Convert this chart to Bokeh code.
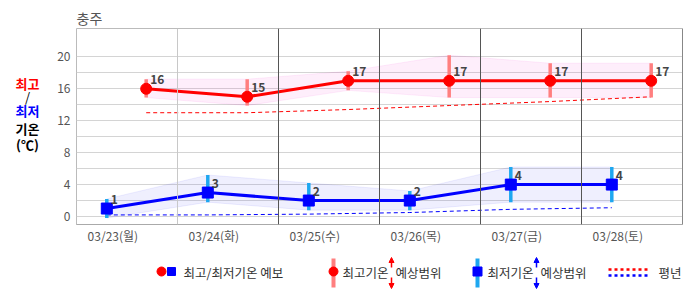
from bokeh.plotting import figure
from bokeh.models import Range1d, FixedTicker, Span, Arrow, NormalHead
from bokeh.layouts import column, row
from bokeh.embed import file_html
from bokeh.resources import INLINE
from bokeh.core.properties import value

FONT = "Noto Sans CJK KR"

station = "충주"
dates = ["03/23(월)", "03/24(화)", "03/25(수)", "03/26(목)", "03/27(금)", "03/28(토)"]
tmax = [16, 15, 17, 17, 17, 17]
tmax_hi = [17.2, 17.2, 18.2, 20.2, 19.2, 19.2]
tmax_lo = [14.9, 13.9, 15.8, 14.9, 14.9, 14.9]
tmin = [1, 3, 2, 2, 4, 4]
tmin_hi = [2.2, 5.2, 4.2, 3.2, 6.2, 6.2]
tmin_lo = [-0.2, 1.8, 0.8, 0.8, 1.8, 1.8]
norm_max = [13.0, 13.0, 13.4, 13.9, 14.4, 15.0]
norm_min = [0.2, 0.2, 0.3, 0.5, 0.9, 1.1]
y_ticks = [0, 4, 8, 12, 16, 20]
legend_labels = ["최고/최저기온 예보", "최고기온", "최저기온", "예상범위", "평년"]

n = len(dates)
x_max = [i + 0.69 for i in range(n)]
x_min = [i + 0.30 for i in range(n)]
x_lab = [i + 0.36 for i in range(n)]

RED = "#ff0000"
BLUE = "#0000ff"
RED_BAR = "#ff7f7f"
BLUE_BAR = "#1ea7f0"


def borders(fig, l, r, t, b):
    fig.min_border = 0
    fig.min_border_left = l
    fig.min_border_right = r
    fig.min_border_top = t
    fig.min_border_bottom = b


# ---------------- title strip ----------------
tt = figure(width=686, height=27, x_range=Range1d(0, 686), y_range=Range1d(27, 0),
            output_backend="svg", toolbar_location=None, x_axis_type=None, y_axis_type=None)
borders(tt, 0, 0, 0, 0)
tt.outline_line_color = None
tt.grid.visible = False
tt.text(x=[76], y=[17], text=[station], text_font=value(FONT), text_font_size="14px",
        text_color="#555555", text_align="left", text_baseline="middle")

# ---------------- main chart ----------------
p = figure(width=640, height=223, x_range=Range1d(0, n), y_range=Range1d(-1, 23.55),
           output_backend="svg", toolbar_location=None)
borders(p, 30, 4, 1, 26)
p.outline_line_color = "#bbbbbb"
p.background_fill_color = "white"
p.border_fill_color = "white"

p.xgrid.visible = False
p.ygrid.ticker = FixedTicker(ticks=list(range(0, 21, 2)))
p.ygrid.grid_line_color = "#d4d4d4"

p.xaxis.ticker = FixedTicker(ticks=x_lab)
p.xaxis.major_label_overrides = {x: d for x, d in zip(x_lab, dates)}
p.xaxis.major_tick_line_color = None
p.xaxis.major_tick_out = 0
p.xaxis.major_tick_in = 0
p.xaxis.minor_tick_line_color = None
p.xaxis.axis_line_color = "#aaaaaa"
p.xaxis.major_label_standoff = 2
p.xaxis.major_label_text_font = FONT
p.xaxis.major_label_text_font_size = "12px"
p.xaxis.major_label_text_color = "#555555"

p.yaxis.ticker = FixedTicker(ticks=y_ticks)
p.yaxis.major_tick_line_color = None
p.yaxis.major_tick_out = 0
p.yaxis.major_tick_in = 0
p.yaxis.minor_tick_line_color = None
p.yaxis.axis_line_color = None
p.yaxis.major_label_standoff = 6
p.yaxis.major_label_text_font = FONT
p.yaxis.major_label_text_font_size = "12px"
p.yaxis.major_label_text_color = "#555555"

for k in range(1, n + 1):
    p.add_layout(Span(location=k, dimension="height",
                      line_color="#c8c8c8" if k == 1 else "#555555", line_width=1))

# bands
p.varea(x=x_max, y1=tmax_lo, y2=tmax_hi, fill_color="#ee22cc", fill_alpha=0.08)
p.line(x_max, tmax_hi, line_color="#ee22cc", line_alpha=0.08)
p.line(x_max, tmax_lo, line_color="#ee22cc", line_alpha=0.08)
p.varea(x=x_min, y1=tmin_lo, y2=tmin_hi, fill_color="#3333ee", fill_alpha=0.08)
p.line(x_min, tmin_hi, line_color="#3333ee", line_alpha=0.08)
p.line(x_min, tmin_lo, line_color="#3333ee", line_alpha=0.08)

# normals
p.line(x_max, norm_max, line_color=RED, line_width=1, line_dash="4 3")
p.line(x_min, norm_min, line_color=BLUE, line_width=1, line_dash="4 3")

# range bars
p.segment(x0=x_max, y0=tmax_lo, x1=x_max, y1=tmax_hi, line_color=RED_BAR, line_width=3.5)
p.segment(x0=x_min, y0=tmin_lo, x1=x_min, y1=tmin_hi, line_color=BLUE_BAR, line_width=3.5)

# forecast lines
p.line(x_max, tmax, line_color=RED, line_width=3)
p.scatter(x_max, tmax, marker="circle", size=11, fill_color=RED, line_color=RED)
p.line(x_min, tmin, line_color=BLUE, line_width=3)
p.scatter(x_min, tmin, marker="square", size=11, fill_color=BLUE, line_color=BLUE)

p.text(x=x_max, y=tmax, text=[str(v) for v in tmax], x_offset=4, y_offset=-9,
       text_font=value(FONT), text_font_size="12px", text_font_style="bold",
       text_color="#444444", text_baseline="middle", text_align="left")
p.text(x=x_min, y=tmin, text=[str(v) for v in tmin], x_offset=4, y_offset=-9,
       text_font=value(FONT), text_font_size="12px", text_font_style="bold",
       text_color="#444444", text_baseline="middle", text_align="left")

# ---------------- y title panel (same frame rows as main chart) ----------------
t = figure(width=46, height=223, x_range=Range1d(0, 46), y_range=Range1d(224, 28),
           output_backend="svg", toolbar_location=None, x_axis_type=None, y_axis_type=None)
borders(t, 0, 0, 1, 26)
t.outline_line_color = None
t.grid.visible = False
ttl_text = ["최고", "/", "최저", "기온", "(℃)"]
ttl_y = [83, 96, 110, 128, 144]
ttl_col = [RED, "#000000", BLUE, "#000000", "#000000"]
ttl_style = ["bold", "normal", "bold", "bold", "bold"]
for s, yy, c, st in zip(ttl_text, ttl_y, ttl_col, ttl_style):
    t.text(x=[27], y=[yy], text=[s], text_font=value(FONT), text_font_size="13px",
           text_font_style=st, text_color=c, text_align="center", text_baseline="middle")

# ---------------- legend panel ----------------
lg = figure(width=686, height=45, x_range=Range1d(0, 686), y_range=Range1d(45, 0),
            output_backend="svg", toolbar_location=None, x_axis_type=None, y_axis_type=None)
borders(lg, 0, 0, 0, 0)
lg.outline_line_color = None
lg.grid.visible = False
ly = 22


def ltext(x, s):
    lg.text(x=[x], y=[ly], text=[s], text_font=value(FONT), text_font_size="12.5px",
            text_color="#333333", text_align="left", text_baseline="middle")


lg.scatter([161], [ly - 1], marker="circle", size=9, fill_color=RED, line_color=RED)
lg.scatter([171], [ly - 1], marker="square", size=8, fill_color=BLUE, line_color=BLUE)
ltext(183, legend_labels[0])

lg.segment(x0=[333], y0=[8], x1=[333], y1=[37], line_color=RED_BAR, line_width=4)
lg.scatter([333], [ly - 1], marker="circle", size=9, fill_color=RED, line_color=RED)
ltext(342, legend_labels[1])
ltext(395, legend_labels[3])

lg.segment(x0=[477], y0=[8], x1=[477], y1=[37], line_color=BLUE_BAR, line_width=4)
lg.scatter([477], [ly - 1], marker="square", size=9, fill_color=BLUE, line_color=BLUE)
ltext(487, legend_labels[2])
ltext(540, legend_labels[3])

for ax, c in [(391, RED), (536, BLUE)]:
    lg.add_layout(Arrow(end=NormalHead(size=5, fill_color=c, line_color=c),
                        x_start=ax, y_start=17, x_end=ax, y_end=7, line_color=c, line_width=1.5))
    lg.add_layout(Arrow(end=NormalHead(size=5, fill_color=c, line_color=c),
                        x_start=ax, y_start=27, x_end=ax, y_end=38, line_color=c, line_width=1.5))

lg.line([608, 647], [19, 19], line_color=RED, line_width=2.5, line_dash="3 3")
lg.line([608, 647], [25, 25], line_color=BLUE, line_width=2.5, line_dash="3 3")
ltext(658, legend_labels[4])

layout = column(tt, row(t, p), lg)
open("out.html", "w").write(file_html(layout, INLINE))
